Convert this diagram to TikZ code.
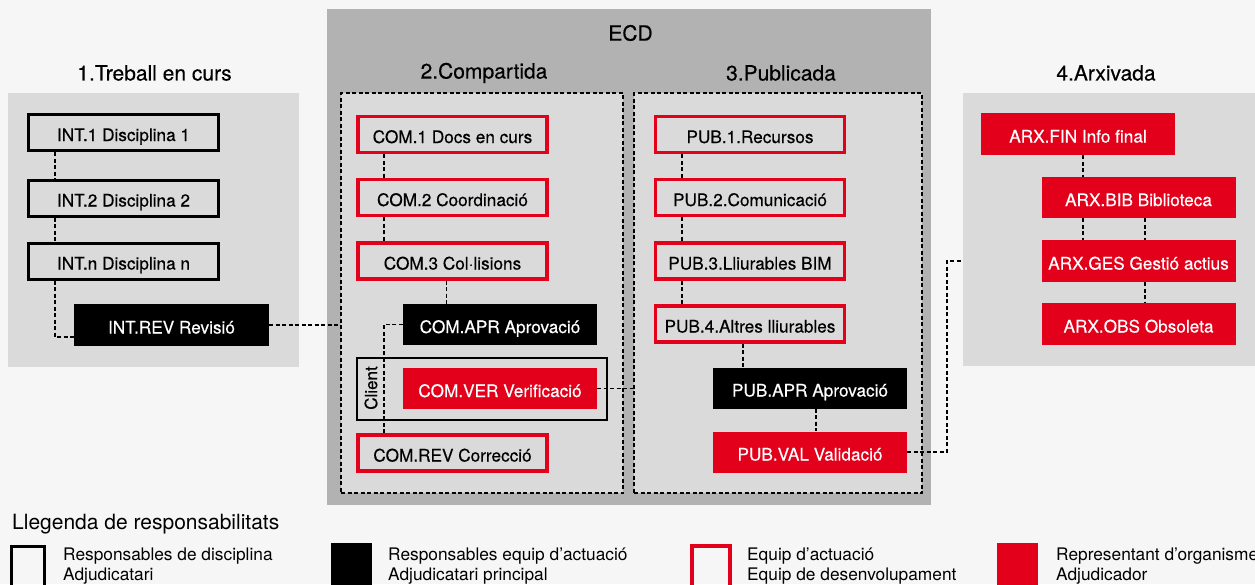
\documentclass[tikz,border=0pt]{standalone}
\usepackage{fontspec}
\setmainfont{TeX Gyre Heros}
\newfontfamily\medfont[FakeBold=0.35]{TeX Gyre Heros}
\definecolor{bg}{HTML}{F6F6F6}
\definecolor{ecd}{HTML}{B2B2B2}
\definecolor{panel}{HTML}{DADADA}
\definecolor{cred}{HTML}{E2001A}
\begin{document}
\begin{tikzpicture}[x=1pt,y=-1pt,
 every node/.style={inner sep=0pt},
 boxtext/.style={font=\medfont\fontsize{17.2}{19}\selectfont, text height=17pt, text depth=0pt},
 wbox/.style={boxtext, draw=black, line width=3pt, minimum width=190pt, minimum height=36pt},
 bbox/.style={boxtext, fill=black, text=white, minimum width=194pt, minimum height=41pt},
 rbox/.style={boxtext, draw=cred, line width=3.5pt, minimum width=189pt, minimum height=36pt},
 fbox/.style={boxtext, fill=cred, text=white, minimum width=194pt, minimum height=41pt},
 conn/.style={line width=1.7pt, dash pattern=on 4pt off 2.5pt},
 ttl/.style={font=\medfont\fontsize{21}{23}\selectfont},
 legtxt/.style={anchor=north west, align=left, font=\fontsize{17.3}{20}\selectfont},
]
\useasboundingbox (0,0) rectangle (1255,584);
\fill[bg] (0,0) rectangle (1255,584);
% ECD panel and stage panels
\node[fill=ecd, minimum width=604pt, minimum height=496pt] (ecdp) at (629,257) {};
\node[fill=panel, minimum width=291pt, minimum height=274pt] (trp) at (153.5,230) {};
\node[fill=panel, minimum width=300pt, minimum height=273pt] (arxp) at (1113,229.5) {};
\node[draw, conn, fill=panel, minimum width=282pt, minimum height=400pt] (comp) at (482,293) {};
\node[draw, conn, fill=panel, minimum width=288pt, minimum height=400pt] (publ) at (778,293) {};
% titles
\node[ttl] (tecd) at (630.5,33) {ECD};
\node[ttl] (t1) at (154.5,73) {1.Treball en curs};
\node[ttl] (t2) at (484,73) {2.Compartida};
\node[ttl] (t3) at (781,73) {3.Publicada};
\node[ttl] (t4) at (1106,73) {4.Arxivada};
% 1. Treball en curs
\node[wbox] (int1) at (123.5,132.5) {INT.1 Disciplina 1};
\node[wbox] (int2) at (123.5,198) {INT.2 Disciplina 2};
\node[wbox] (intn) at (123.5,261) {INT.n Disciplina n};
\node[bbox, minimum width=195pt, minimum height=42pt] (intrev) at (171.5,325) {INT.REV Revisió};
% 2. Compartida
\node[rbox] (com1) at (452.5,134.5) {COM.1 Docs en curs};
\node[rbox] (com2) at (452.5,197.5) {COM.2 Coordinació};
\node[rbox] (com3) at (452.5,261) {COM.3 Col·lisions};
\node[bbox] (comapr) at (500,324.5) {COM.APR Aprovació};
\node[draw=black, line width=1.8pt, minimum width=250pt, minimum height=62pt] (clientbox) at (482,389) {};
\node[rotate=90, font=\medfont\fontsize{17}{19}\selectfont] (client) at (371,388) {Client};
\node[fbox] (comver) at (500,388.5) {COM.VER Verificació};
\node[rbox] (comrev) at (452.5,453) {COM.REV Correcció};
% 3. Publicada
\node[rbox] (pub1) at (750,134.5) {PUB.1.Recursos};
\node[rbox] (pub2) at (750,197.5) {PUB.2.Comunicació};
\node[rbox] (pub3) at (750,261) {PUB.3.Lliurables BIM};
\node[rbox] (pub4) at (750,324) {PUB.4.Altres lliurables};
\node[bbox] (pubapr) at (810,388) {PUB.APR Aprovació};
\node[fbox] (pubval) at (810,452) {PUB.VAL Validació};
% 4. Arxivada
\node[fbox, minimum height=42pt] (arxfin) at (1078,134) {ARX.FIN Info final};
\node[fbox] (arxbib) at (1138.5,197.5) {ARX.BIB Biblioteca};
\node[fbox, minimum height=42pt] (arxges) at (1138.5,261) {ARX.GES Gestió actius};
\node[fbox, minimum height=42pt] (arxobs) at (1138.5,324) {ARX.OBS Obsoleta};
% connectors
\draw[conn] ([xshift=28pt]int1.south west) -- ([xshift=28pt]int2.north west);
\draw[conn] ([xshift=28pt]int2.south west) -- ([xshift=28pt]intn.north west);
\draw[conn] ([xshift=28pt]intn.south west) |- ([yshift=-12pt]intrev.west);
\draw[conn] (intrev.east) -- (intrev.east -| comp.west);
\draw[conn] ([xshift=28pt]com1.south west) -- ([xshift=28pt]com2.north west);
\draw[conn] ([xshift=28pt]com2.south west) -- ([xshift=28pt]com3.north west);
\draw[conn] ([xshift=-6pt]com3.south) -- ([xshift=-6pt]com3.south |- comapr.north);
\draw[conn] (comapr.west) -| ([xshift=28pt]comrev.north west);
\draw[conn] (comver.east) -- (comver.east -| publ.west);
\draw[conn] ([xshift=28pt]pub1.south west) -- ([xshift=28pt]pub2.north west);
\draw[conn] ([xshift=28pt]pub2.south west) -- ([xshift=28pt]pub3.north west);
\draw[conn] ([xshift=28pt]pub3.south west) -- ([xshift=28pt]pub4.north west);
\draw[conn] ([xshift=-7pt]pub4.south) -- ([xshift=-7pt]pub4.south |- pubapr.north);
\draw[conn] ([xshift=6pt]pubapr.south) -- ([xshift=6pt]pubval.north);
\coordinate (kink) at (947,0);
\draw[conn] (pubval.east) -| (kink |- arxges.west) -- (arxges.west -| arxp.west);
\draw[conn] ([xshift=5pt]arxfin.south) -- ([xshift=5pt]arxfin.south |- arxbib.north);
\draw[conn] ([xshift=-55.5pt]arxbib.south) -- ([xshift=-55.5pt]arxges.north);
\draw[conn] ([xshift=6.5pt]arxbib.south) -- ([xshift=6.5pt]arxges.north);
\draw[conn] ([xshift=6.5pt]arxges.south) -- ([xshift=6.5pt]arxobs.north);
% legend
\node[anchor=west, font=\fontsize{21}{23}\selectfont] (legtitle) at (12,524) {Llegenda de responsabilitats};
\node[draw=black, line width=3pt, minimum width=33pt, minimum height=44pt] (lg1) at (28,568) {};
\node[legtxt] (lt1) at (63,547.5) {Responsables de disciplina\\Adjudicatari};
\node[fill=black, minimum width=41pt, minimum height=44pt] (lg2) at (351.5,565) {};
\node[legtxt] (lt2) at (388,547.5) {Responsables equip d’actuació\\Adjudicatari principal};
\node[draw=cred, line width=3.5pt, minimum width=38pt, minimum height=44pt] (lg3) at (711,568) {};
\node[legtxt] (lt3) at (747,547.5) {Equip d’actuació\\Equip de desenvolupament};
\node[fill=cred, minimum width=41pt, minimum height=44pt] (lg4) at (1017.5,565) {};
\node[legtxt] (lt4) at (1056,547.5) {Representant d’organisme\\Adjudicador};
\end{tikzpicture}
\end{document}
